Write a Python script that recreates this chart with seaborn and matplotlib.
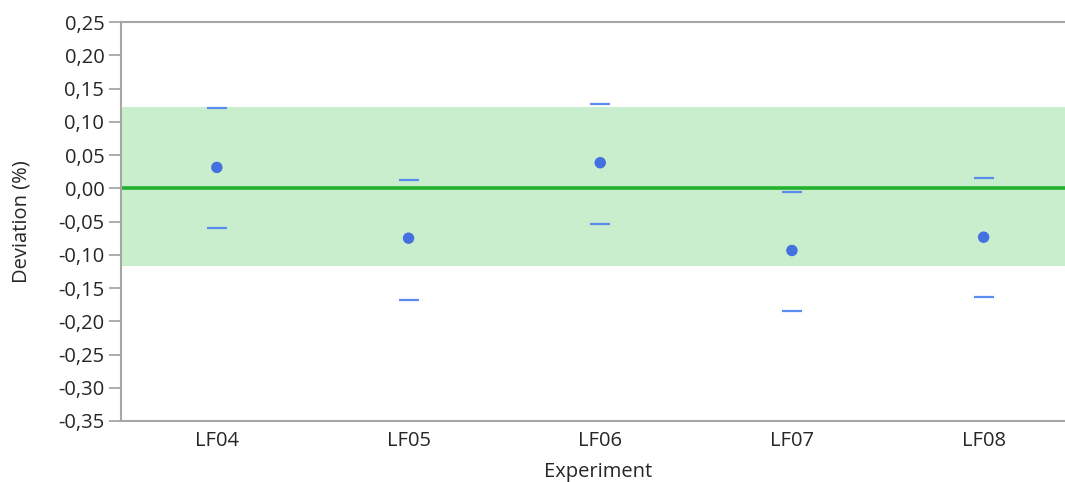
import matplotlib
matplotlib.use("Agg")
import matplotlib.pyplot as plt
from matplotlib.ticker import FuncFormatter, MultipleLocator
import pandas as pd
import seaborn as sns

# Measured deviation per experiment with its upper/lower limits
experiments = ["LF04", "LF05", "LF06", "LF07", "LF08"]
deviation = [0.0315, -0.075, 0.0385, -0.0935, -0.0735]
upper_limit = [0.121, 0.013, 0.127, -0.005, 0.016]
lower_limit = [-0.059, -0.1675, -0.053, -0.185, -0.164]

# Tolerance band around zero
band_low, band_high = -0.117, 0.122

sns.set_theme(style="white")
plt.rcParams["font.family"] = ["Open Sans", "DejaVu Sans"]

df = pd.DataFrame({
    "Experiment": experiments,
    "Deviation": deviation,
    "Upper": upper_limit,
    "Lower": lower_limit,
})

fs = 14.5
fig = plt.figure(figsize=(10.65, 4.82), dpi=100)
ax = fig.add_axes([0.1136, 0.1266, 0.8864 + 0.01, 0.8274])

ax.axhspan(band_low, band_high, color="#c9eecd", zorder=0, lw=0)
ax.axhline(0, color="#22b22e", lw=2.6, zorder=1)

dash_color = "#5a8cf0"
sns.scatterplot(data=df, x="Experiment", y="Upper", marker="_", s=210,
                color=dash_color, linewidth=1.6, ax=ax, zorder=3)
sns.scatterplot(data=df, x="Experiment", y="Lower", marker="_", s=210,
                color=dash_color, linewidth=1.6, ax=ax, zorder=3)
sns.scatterplot(data=df, x="Experiment", y="Deviation", marker="o", s=68,
                color="#4470e0", edgecolor="none", ax=ax, zorder=4)

ax.set_xlim(-0.5, 4.48)
ax.set_ylim(-0.35, 0.25)
ax.yaxis.set_major_locator(MultipleLocator(0.05))
ax.yaxis.set_major_formatter(FuncFormatter(lambda v, _: f"{v:.2f}".replace(".", ",").replace("-0,00", "0,00")))

ax.set_xlabel("Experiment", fontsize=fs, color="#262626", labelpad=8)
ax.set_ylabel("Deviation (%)", fontsize=fs, color="#262626", labelpad=19)

ax.tick_params(axis="y", which="major", length=9, width=1.3, color="#a6a6a6",
               labelsize=fs, labelcolor="#262626", pad=3, left=True)
ax.tick_params(axis="x", length=0, labelsize=fs, labelcolor="#262626", pad=7)

for side in ["left", "bottom", "top"]:
    ax.spines[side].set_visible(True)
    ax.spines[side].set_color("#a6a6a6")
    ax.spines[side].set_linewidth(1.5)
ax.spines["right"].set_visible(False)

fig.savefig("out.png", dpi=100)
